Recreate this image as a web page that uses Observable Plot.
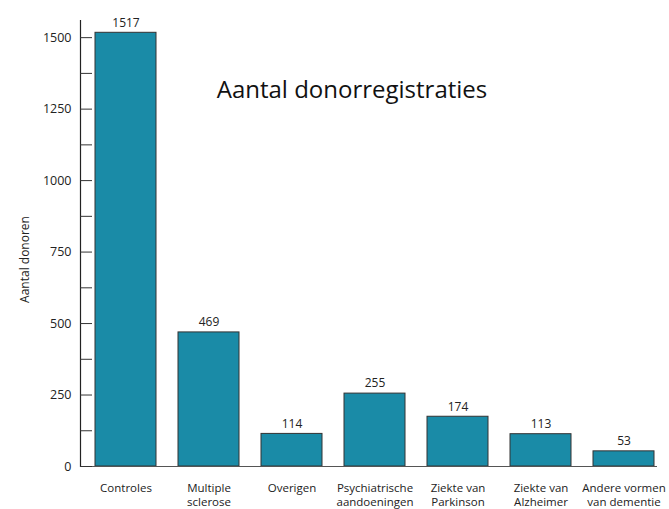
<!DOCTYPE html>
<html>
<head>
<meta charset="utf-8">
<script src="https://cdn.jsdelivr.net/npm/d3@7"></script>
<script src="https://cdn.jsdelivr.net/npm/@observablehq/plot@0.6"></script>
<style>
  html, body { margin: 0; padding: 0; background: #fff; }
  svg { font-family: "Open Sans", sans-serif; }
</style>
</head>
<body>
<div id="chart"></div>
<script>
const categories = ["Controles", "Multiple\nsclerose", "Overigen", "Psychiatrische\naandoeningen", "Ziekte van\nParkinson", "Ziekte van\nAlzheimer", "Andere vormen\nvan dementie"];
const values = [1517, 469, 114, 255, 174, 113, 53];
const tickValues = [0, 125, 250, 375, 500, 625, 750, 875, 1000, 1125, 1250, 1375, 1500];
const labelTicks = [0, 250, 500, 750, 1000, 1250, 1500];
const title = "Aantal donorregistraties";
const yLabel = "Aantal donoren";

const data = categories.map((c, i) => ({category: c, value: values[i]}));

const chart = Plot.plot({
  width: 669,
  height: 509,
  marginLeft: 80,
  marginRight: 12,
  marginTop: 20,
  marginBottom: 43,
  style: {fontFamily: "Open Sans, sans-serif", color: "#222", background: "#fff"},
  x: {domain: categories, paddingInner: 0.27, paddingOuter: 0.09, align: 0.8},
  y: {domain: [0, 1560]},
  marks: [
    Plot.barY(data, {x: "category", y: "value", fill: "#1a8ba7", stroke: "#333", strokeWidth: 1}),
    Plot.ruleY([0], {stroke: "#555", strokeWidth: 1.2}),
    Plot.frame({anchor: "left", stroke: "#222", strokeWidth: 1.2}),
    Plot.axisY({ticks: tickValues, tickSize: 12, dx: 12, text: null, label: null, stroke: "#333"}),
    Plot.axisY({ticks: labelTicks, tickSize: 0, tickPadding: 9, fontSize: 12.5, label: null, tickFormat: d3.format("d")}),
    Plot.axisX({tickSize: 0, tickPadding: 15, fontSize: 11.5, label: null, lineHeight: 1.24}),
    Plot.text(data, {x: "category", y: "value", text: d => String(d.value), dy: -10, fontSize: 12, fill: "#222"}),
    Plot.text([title], {frameAnchor: "top", dx: -17, dy: 60, fontSize: 24, fill: "#111"}),
    Plot.text([yLabel], {frameAnchor: "left", textAnchor: "middle", dx: -55, dy: 16, rotate: -90, fontSize: 12, fill: "#222"})
  ]
});
document.getElementById("chart").appendChild(chart);
</script>
</body>
</html>
